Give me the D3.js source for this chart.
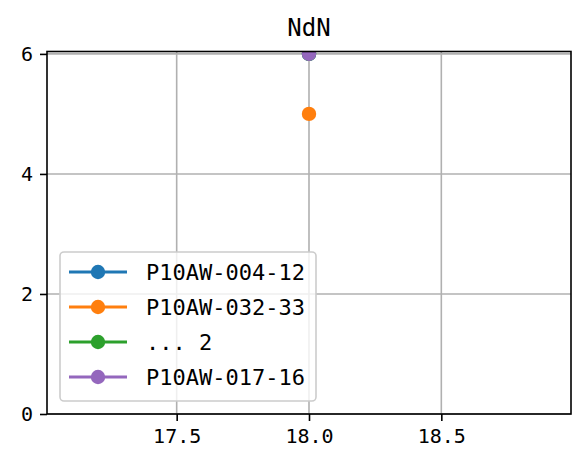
<!DOCTYPE html>
<html><head><meta charset="utf-8">
<script src="https://cdn.jsdelivr.net/npm/d3@7"></script>
<style>body{margin:0;background:#fff}svg{display:block}</style>
</head><body>
<script>
const title = "NdN";
const seriesNames = ["P10AW-004-12", "P10AW-032-33", "... 2", "P10AW-017-16"];
const seriesColors = ["#1f77b4", "#ff7f0e", "#2ca02c", "#9467bd"];
const seriesX = [[18.0], [18.0], [18.0], [18.0]];
const seriesY = [[6], [5], [6], [6]];
const xTicks = [17.5, 18.0, 18.5];
const yTicks = [0, 2, 4, 6];
const xDomain = [17.01, 18.99];
const yDomain = [0, 6.04];

const W = 572, H = 456;
const L = 47, R = 571, T = 51.5, B = 414;
const FONT = "'DejaVu Sans Mono', 'Liberation Mono', monospace";

const svg = d3.select("body").append("svg").attr("width", W).attr("height", H);
const x = d3.scaleLinear().domain(xDomain).range([L, R]);
const y = d3.scaleLinear().domain(yDomain).range([B, T]);

svg.append("defs").append("clipPath").attr("id", "clip")
  .append("rect").attr("x", L).attr("y", T).attr("width", R - L).attr("height", B - T);

// grid
const grid = svg.append("g");
grid.selectAll(".gx").data(xTicks).join("line")
  .attr("x1", d => x(d)).attr("x2", d => x(d)).attr("y1", T).attr("y2", B)
  .attr("stroke", "#b0b0b0").attr("stroke-width", 1.6);
grid.selectAll(".gy").data(yTicks).join("line")
  .attr("y1", d => y(d)).attr("y2", d => y(d)).attr("x1", L).attr("x2", R)
  .attr("stroke", "#b0b0b0").attr("stroke-width", 1.6);

// series
const plot = svg.append("g").attr("clip-path", "url(#clip)");
seriesNames.forEach((name, i) => {
  const pts = seriesX[i].map((xv, j) => [xv, seriesY[i][j]]);
  plot.append("path").datum(pts)
    .attr("d", d3.line().x(d => x(d[0])).y(d => y(d[1])))
    .attr("fill", "none").attr("stroke", seriesColors[i]).attr("stroke-width", 3);
  plot.selectAll(null).data(pts).join("circle")
    .attr("cx", d => x(d[0])).attr("cy", d => y(d[1])).attr("r", 7.2)
    .attr("fill", seriesColors[i]);
});

// axes
const xAxis = d3.axisBottom(x).tickValues(xTicks).tickFormat(d3.format(".1f"))
  .tickSize(7).tickPadding(8);
const yAxis = d3.axisLeft(y).tickValues(yTicks).tickFormat(d3.format("d"))
  .tickSize(7).tickPadding(7);
const gx = svg.append("g").attr("transform", `translate(0,${B})`).call(xAxis);
const gy = svg.append("g").attr("transform", `translate(${L},0)`).call(yAxis);
[gx, gy].forEach(g => {
  g.select(".domain").remove();
  g.selectAll(".tick line").attr("stroke", "#000").attr("stroke-width", 1.6);
  g.selectAll(".tick text").attr("fill", "#000").style("font-family", FONT).style("font-size", "20px");
});

// spines
svg.append("rect").attr("x", L).attr("y", T).attr("width", R - L).attr("height", B - T)
  .attr("fill", "none").attr("stroke", "#000").attr("stroke-width", 1.6);

// title
svg.append("text").attr("x", (L + R) / 2).attr("y", 36).attr("text-anchor", "middle")
  .style("font-family", FONT).style("font-size", "24px").text(title);

// legend
const lg = svg.append("g");
lg.append("rect").attr("x", 60).attr("y", 252).attr("width", 256).attr("height", 149)
  .attr("rx", 4).attr("fill", "#fff").attr("fill-opacity", 0.8)
  .attr("stroke", "#cccccc").attr("stroke-width", 1.6);
seriesNames.forEach((name, i) => {
  const cy = 272 + 35 * i;
  lg.append("line").attr("x1", 69).attr("x2", 127).attr("y1", cy).attr("y2", cy)
    .attr("stroke", seriesColors[i]).attr("stroke-width", 3);
  lg.append("circle").attr("cx", 98).attr("cy", cy).attr("r", 7.2).attr("fill", seriesColors[i]);
  lg.append("text").attr("x", 146).attr("y", cy).attr("dy", "0.36em")
    .style("font-family", FONT).style("font-size", "22px").style("white-space", "pre")
    .attr("xml:space", "preserve").text(name);
});
</script>
</body></html>
